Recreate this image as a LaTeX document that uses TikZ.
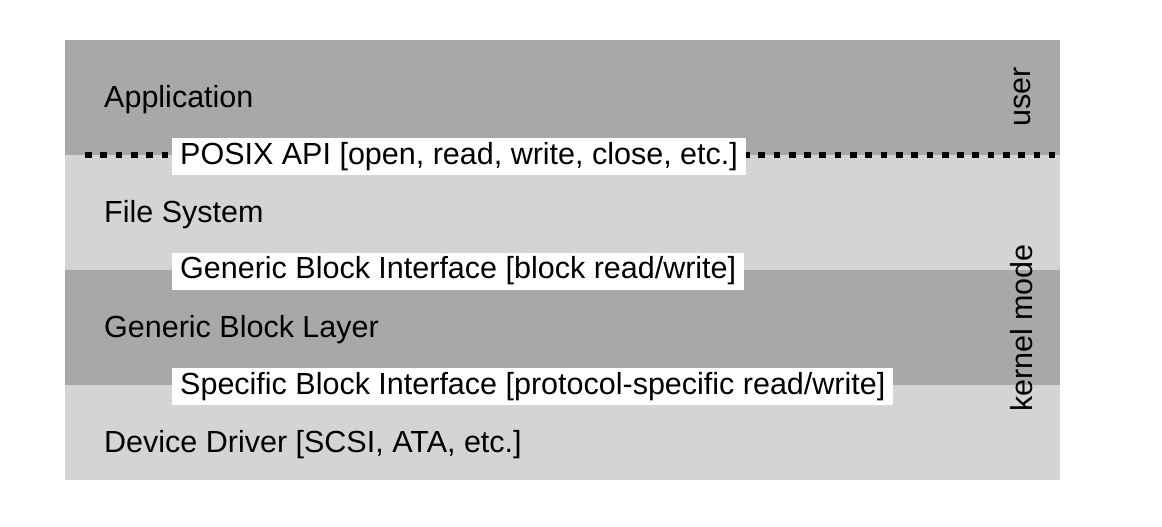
\documentclass[tikz,border=0pt]{standalone}
\usepackage{fontspec}
\setmainfont{Liberation Sans}
\definecolor{darkband}{RGB}{168,168,168}
\definecolor{lightband}{RGB}{212,212,212}
\tikzset{
  bandlabel/.style={anchor=west, inner sep=0pt, font=\fontsize{30.5}{36}\selectfont},
  iface/.style={anchor=west, fill=white, inner xsep=8pt, inner ysep=0pt, minimum height=37pt, font=\fontsize{30.5}{36}\selectfont},
  side/.style={rotate=90, inner sep=0pt, font=\fontsize{30.5}{36}\selectfont},
  boundary/.style={line width=6.5pt, dash pattern=on 6.7pt off 8.6pt}
}
\begin{document}
\begin{tikzpicture}[x=1pt,y=-1pt]
\useasboundingbox (0,0) rectangle (1162,527);
\fill[darkband] (65,40) rectangle (1060,155);
\fill[lightband] (65,155) rectangle (1060,270);
\fill[darkband] (65,270) rectangle (1060,385);
\fill[lightband] (65,385) rectangle (1060,480);
\coordinate (dl) at (85,155);
\coordinate (dr) at (1055,155);
\draw[boundary] (dl) -- (dr);
\node[bandlabel] (app) at (104,100) {Application};
\node[bandlabel] (fs) at (104,215) {File System};
\node[bandlabel] (gbl) at (104,330) {Generic Block Layer};
\node[bandlabel] (dd) at (104,445) {Device Driver [SCSI, ATA, etc.]};
\node[iface] (posix) at (172,156.5) {POSIX API [open, read, write, close, etc.]};
\node[iface] (gbi) at (172,271) {Generic Block Interface [block read/write]};
\node[iface] (sbi) at (172,386.5) {Specific Block Interface [protocol-specific read/write]};
\node[side] (user) at (1022,97) {user};
\node[side] (kernel) at (1022,328) {kernel mode};
\end{tikzpicture}
\end{document}
